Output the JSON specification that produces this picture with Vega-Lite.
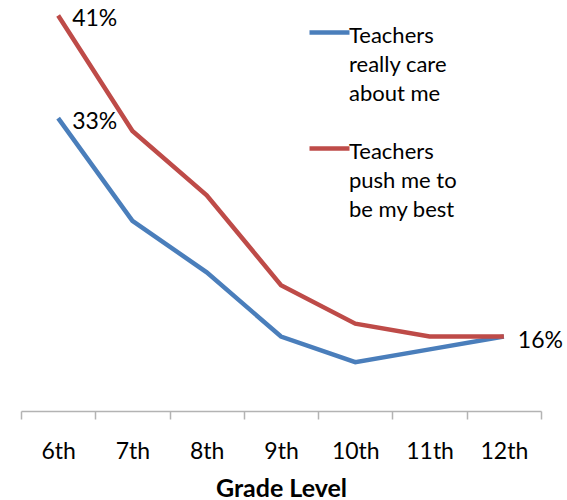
{
  "$schema": "https://vega.github.io/schema/vega-lite/v6.json",
  "width": 520,
  "height": 411,
  "autosize": "none",
  "padding": {"left": 21, "top": 0, "right": 26, "bottom": 89},
  "background": "white",
  "config": {"view": {"stroke": null}, "font": "Lato"},
  "data": {
    "values": [
      {"grade": "6th", "series": "Teachers really care about me", "pct": 33, "label": "33%"},
      {"grade": "7th", "series": "Teachers really care about me", "pct": 25},
      {"grade": "8th", "series": "Teachers really care about me", "pct": 21},
      {"grade": "9th", "series": "Teachers really care about me", "pct": 16},
      {"grade": "10th", "series": "Teachers really care about me", "pct": 14},
      {"grade": "11th", "series": "Teachers really care about me", "pct": 15},
      {"grade": "12th", "series": "Teachers really care about me", "pct": 16},
      {"grade": "6th", "series": "Teachers push me to be my best", "pct": 41, "label": "41%"},
      {"grade": "7th", "series": "Teachers push me to be my best", "pct": 32},
      {"grade": "8th", "series": "Teachers push me to be my best", "pct": 27},
      {"grade": "9th", "series": "Teachers push me to be my best", "pct": 20},
      {"grade": "10th", "series": "Teachers push me to be my best", "pct": 17},
      {"grade": "11th", "series": "Teachers push me to be my best", "pct": 16},
      {"grade": "12th", "series": "Teachers push me to be my best", "pct": 16, "label": "16%"}
    ]
  },
  "encoding": {
    "x": {
      "field": "grade",
      "type": "ordinal",
      "sort": ["6th", "7th", "8th", "9th", "10th", "11th", "12th"],
      "scale": {"type": "band", "paddingInner": 0, "paddingOuter": 0},
      "axis": {
        "title": "Grade Level",
        "titleFont": "Lato",
        "titleFontSize": 25,
        "titleFontWeight": "bold",
        "titleColor": "#000000",
        "titleBaseline": "alphabetic",
        "titleY": 85,
        "labelAngle": 0,
        "labelFont": "Lato",
        "labelFontSize": 23,
        "labelColor": "#000000",
        "labelPadding": 21,
        "tickBand": "extent",
        "tickSize": 8,
        "tickColor": "#b3b3b3",
        "tickWidth": 1.5,
        "domainColor": "#b3b3b3",
        "domainWidth": 1.5,
        "grid": false
      }
    },
    "y": {
      "field": "pct",
      "type": "quantitative",
      "scale": {"domain": [10.2, 42.2], "nice": false, "zero": false},
      "axis": null
    }
  },
  "layer": [
    {
      "mark": {"type": "line", "strokeWidth": 4.5, "clip": false},
      "encoding": {
        "color": {
          "field": "series",
          "type": "nominal",
          "scale": {
            "domain": ["Teachers really care about me", "Teachers push me to be my best"],
            "range": ["#4A7EBB", "#BE4B48"]
          },
          "legend": {
            "title": null,
            "orient": "none",
            "legendX": 286,
            "legendY": 10,
            "padding": 0,
            "symbolType": "stroke",
            "symbolSize": 1600,
            "symbolStrokeWidth": 4.5,
            "labelFont": "Lato",
            "labelFontSize": 22,
            "labelColor": "#000000",
            "labelBaseline": "top",
            "labelOffset": -3,
            "labelLimit": 300,
            "rowPadding": 21,
            "labelExpr": "datum.label == 'Teachers really care about me' ? ['Teachers', 'really care', 'about me'] : ['Teachers', 'push me to', 'be my best']",
            "encode": {"labels": {"update": {"lineHeight": {"value": 29}, "dy": {"value": -7}}}}
          }
        }
      }
    },
    {
      "mark": {"type": "text", "align": "left", "baseline": "middle", "dx": 14, "dy": 4, "fontSize": 23, "font": "Lato", "color": "#000000"},
      "transform": [{"filter": "isValid(datum.label)"}],
      "encoding": {"text": {"field": "label", "type": "nominal"}}
    }
  ]
}
